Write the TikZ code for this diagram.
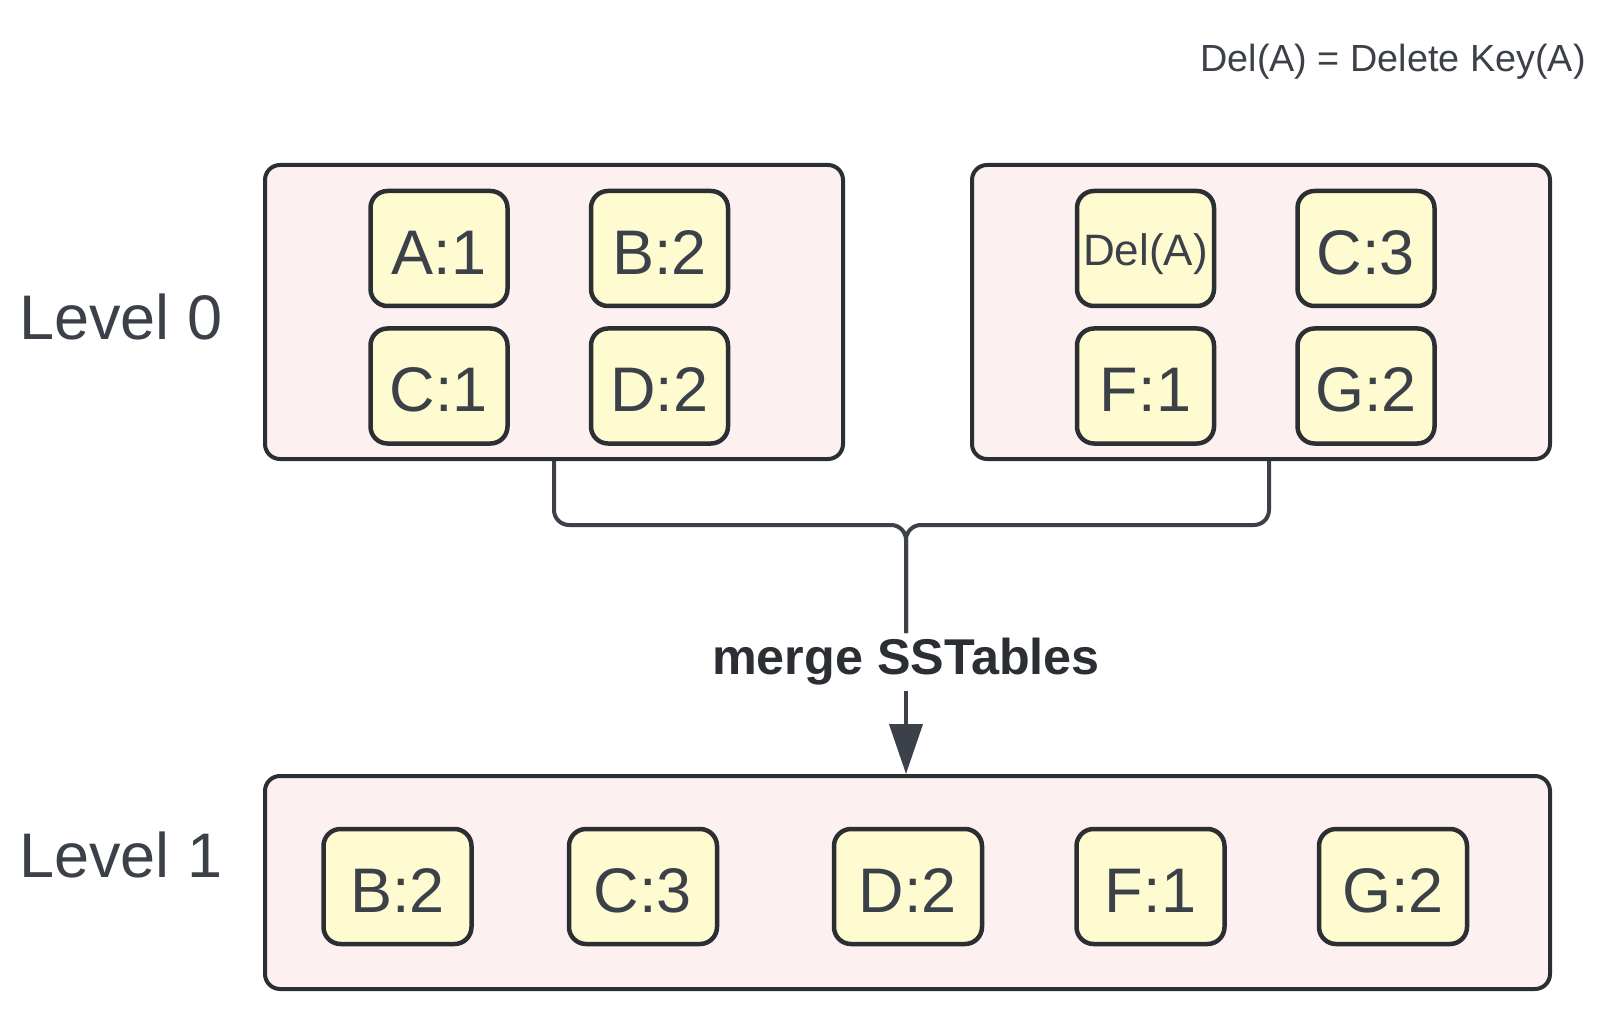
\documentclass[tikz,border=0pt]{standalone}
\usepackage{fontspec}
\setmainfont{Liberation Sans}
\usetikzlibrary{arrows.meta,positioning}

\definecolor{inkgray}{HTML}{2B2E33}
\definecolor{textgray}{HTML}{3C4149}
\definecolor{sstpink}{HTML}{FDF0F0}
\definecolor{keyyellow}{HTML}{FEFBD0}

\begin{document}
\begin{tikzpicture}[x=1pt,y=-1pt,
        sst box/.style={draw=inkgray,fill=sstpink,line width=4pt,rounded corners=15pt,
                        minimum width=578pt,minimum height=294pt},
        key cell/.style={draw=inkgray,fill=keyyellow,line width=4.5pt,rounded corners=17pt,
                         minimum width=137pt,minimum height=115pt,inner sep=0pt,
                         text height=52pt,text depth=0pt,
                         text=textgray,font=\fontsize{63}{63}\selectfont},
        wide cell/.style={key cell,minimum width=148pt},
        level label/.style={anchor=base west,inner sep=0pt,text=textgray,
                            font=\fontsize{63}{63}\selectfont},
        link/.style={draw=textgray,line width=4pt,rounded corners=15pt}]

\useasboundingbox (0,0) rectangle (1618,1024);

% level 0 : two sstables
\node (sst0a) [sst box] at (554,312) {};
\node (sst0b) [sst box] at (1261,312) {};
% level 1 : merged sstable
\node (sst1) [sst box,minimum width=1285pt,minimum height=213pt] at (907.5,882.5) {};

\node (a1) [key cell] at (439,248.5) {A:1};
\node (b2) [key cell,right=79pt of a1] {B:2};
\node (c1) [key cell,below=18pt of a1] {C:1};
\node (d2) [key cell,below=18pt of b2] {D:2};

\node (delA) [key cell,text height=35pt,font=\fontsize{44}{44}\selectfont] at (1145.5,248.5) {Del(A)};
\node (c3) [key cell,right=79pt of delA] {C:3};
\node (f1) [key cell,below=18pt of delA] {F:1};
\node (g2) [key cell,below=18pt of c3] {G:2};

\foreach \name/\x/\text in {mb2/397.5/B:2, mc3/643/C:3, md2/908/D:2, mf1/1150.5/F:1, mg2/1393/G:2}
    \node (\name) [wide cell] at (\x,886.5) {\text};

\node (lvl0) [level label] at (19,340) {Level 0};
\node (lvl1) [level label] at (19,877) {Level 1};
\node (legend) [anchor=base east,inner sep=0pt,text=textgray,font=\fontsize{37.8}{37.8}\selectfont]
    at (1586,72) {Del(A) = Delete Key(A)};

% compaction
\coordinate (join) at (906,525);
\node (merge) [fill=white,inner xsep=6pt,inner ysep=5pt,text=inkgray,
               font=\fontsize{50.3}{50.3}\selectfont\bfseries] at (906,662) {merge SSTables};
\draw[link] (sst0a.south) |- (join) -- (merge.north);
\draw[link] ([xshift=8pt]sst0b.south) |- (join) -- (merge.north);
\draw[link,-{Triangle[length=50pt,width=33pt]}] (merge.south) -- (merge.south |- sst1.north);

\end{tikzpicture}
\end{document}
